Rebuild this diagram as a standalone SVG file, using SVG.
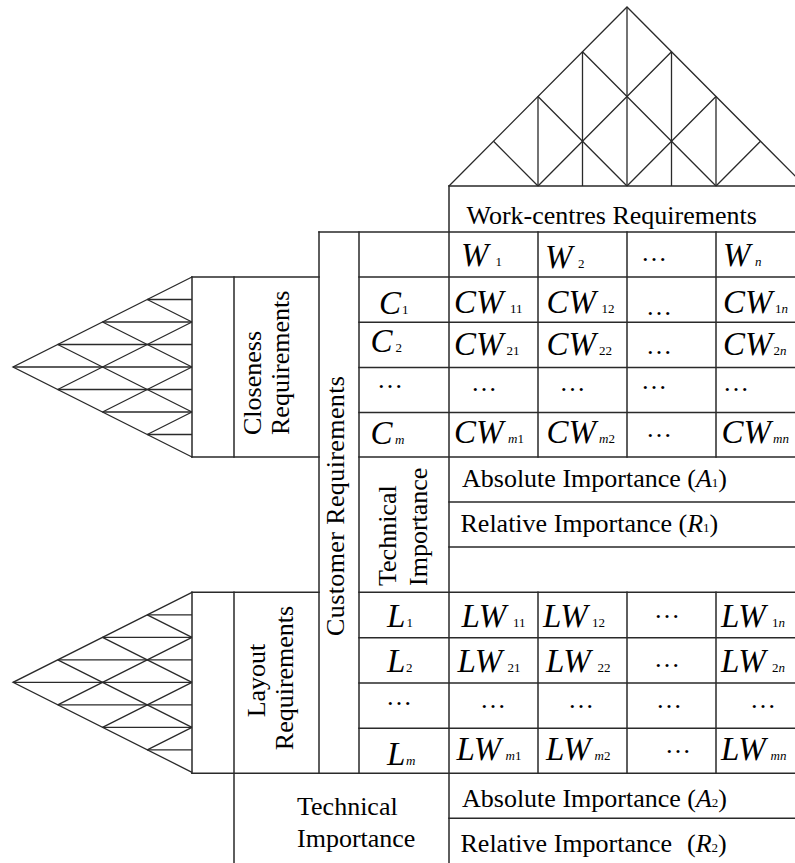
<svg xmlns="http://www.w3.org/2000/svg" width="795" height="863" viewBox="0 0 795 863">
<style>
.ln{stroke:#2a2a2a;stroke-width:1.5;fill:none;stroke-linecap:square}
.tr{stroke:#2a2a2a;stroke-width:1.3;fill:none}
text{font-family:"Liberation Serif","Times New Roman",serif;fill:#000}
.t{font-size:26px}
.m{font-size:33px;font-style:italic}
.d{font-size:26px}
.s{font-size:13px;font-style:normal}
.si{font-size:13px;font-style:italic}
.ai{font-style:italic}
</style>
<rect width="795" height="863" fill="#fff"/>

<g id="roof" class="tr">
<path d="M449,186 L627,7 L805,186"/>
<path d="M538,186V96.5 M582.5,186V51.75 M627,186V7 M671.5,186V51.75 M716,186V96.5"/>
<path d="M493.5,141.25 L538,186 M538,96.5 L627,186 M582.5,51.75 L716,186"/>
<path d="M538,186 L671.5,51.75 M627,186 L716,96.5 M716,186 L760.5,141.25"/>
</g>

<defs>
<g id="tri" class="tr">
<path d="M192,0 L13,90 L192,180"/>
<path d="M147.25,22.5H192 M102.5,45H192 M57.75,67.5H192 M13,90H192 M57.75,112.5H192 M102.5,135H192 M147.25,157.5H192"/>
<path d="M147.25,22.5 L192,45 M102.5,45 L192,90 M57.75,67.5 L192,135"/>
<path d="M57.75,112.5 L192,45 M102.5,135 L192,90 M147.25,157.5 L192,135"/>
</g>
</defs>
<g id="closeness-roof"><use href="#tri" transform="translate(0,277)"/></g>
<g id="layout-roof"><use href="#tri" transform="translate(0,592.3)"/></g>

<g id="grid" class="ln">
<path d="M449,186H795 M319,232H795 M192,277H319 M359,277H795 M359,322.3H795 M359,367.5H795 M359,412.5H795 M192,457H319 M359,457H795 M449,502H795 M449,547H795 M192,592.3H319 M359,592.3H795 M359,637.7H795 M359,683H795 M359,728.3H795 M192,773.3H795 M449,818.3H795"/>
<path d="M192,277V457 M192,592.3V773.3 M234,277V457 M234,592.3V863 M319,232V773.3 M359,232V773.3 M449,186V863 M538,232V457 M627,232V457 M716,232V457 M538,592.3V773.3 M627,592.3V773.3 M716,592.3V773.3"/>
</g>

<g id="work-centres"><text class="t" x="466.5" y="224">Work-centres Requirements</text></g>

<g id="closeness-label">
<text class="t" transform="translate(261,435) rotate(-90)">Closeness</text>
<text class="t" transform="translate(289,435) rotate(-90)">Requirements</text>
</g>

<g id="customer-label">
<text class="t" text-anchor="middle" textLength="260" transform="translate(344,506) rotate(-90)">Customer Requirements</text>
</g>

<g id="tech-importance-1">
<text class="t" transform="translate(396,586) rotate(-90)">Technical</text>
<text class="t" transform="translate(427,586) rotate(-90)">Importance</text>
</g>

<g id="layout-label">
<text class="t" text-anchor="middle" transform="translate(265,680.5) rotate(-90)">Layout</text>
<text class="t" text-anchor="middle" transform="translate(293,678) rotate(-90)">Requirements</text>
</g>

<g id="tech-importance-2">
<text class="t" x="297" y="815">Technical</text>
<text class="t" x="297" y="846.7">Importance</text>
</g>

<g id="abs-1"><text class="t" x="462" y="487">Absolute Importance (<tspan class="ai">A</tspan><tspan class="s">1</tspan>)</text></g>
<g id="rel-1"><text class="t" x="460.5" y="531.7">Relative Importance (<tspan class="ai">R</tspan><tspan class="s">1</tspan>)</text></g>
<g id="abs-2"><text class="t" x="462" y="806.7">Absolute Importance (<tspan class="ai">A</tspan><tspan class="s">2</tspan>)</text></g>
<g id="rel-2"><text class="t" x="460.5" y="851.7">Relative Importance<tspan x="687">(</tspan><tspan class="ai">R</tspan><tspan class="s">2</tspan>)</text></g>

<g id="w-row">
<text class="m" x="461" y="266">W<tspan class="s" x="495.5">1</tspan></text>
<text class="m" x="545" y="268">W<tspan class="s" x="578">2</tspan></text>
<text class="d" x="641" y="261">…</text>
<text class="m" x="723" y="266">W<tspan class="si" x="755">n</tspan></text>
</g>

<g id="c-col">
<text class="m" x="379" y="313.7">C<tspan class="s" x="402">1</tspan></text>
<text class="m" x="370.5" y="352">C<tspan class="s" x="395.5">2</tspan></text>
<text class="d" x="377" y="388">…</text>
<text class="m" x="370.5" y="443.7">C<tspan class="si" x="395">m</tspan></text>
</g>

<g id="cw-matrix">
<text class="m" x="454" y="312.7">CW<tspan class="s" x="510">11</tspan></text>
<text class="m" x="546.5" y="312.7">CW<tspan class="s" x="601.5">12</tspan></text>
<text class="d" x="646" y="315">…</text>
<text class="m" x="723" y="312.7">CW<tspan class="s" x="775">1</tspan><tspan class="si">n</tspan></text>

<text class="m" x="454" y="355">CW<tspan class="s" x="506.5">21</tspan></text>
<text class="m" x="546.5" y="355">CW<tspan class="s" x="599">22</tspan></text>
<text class="d" x="646" y="354">…</text>
<text class="m" x="723" y="355">CW<tspan class="s" x="773.5">2</tspan><tspan class="si">n</tspan></text>

<text class="d" x="471" y="391">…</text>
<text class="d" x="559.5" y="391">…</text>
<text class="d" x="641" y="389">…</text>
<text class="d" x="723" y="391">…</text>

<text class="m" x="454" y="443.3">CW<tspan class="si" x="508">m</tspan><tspan class="s">1</tspan></text>
<text class="m" x="546.5" y="443.3">CW<tspan class="si" x="599">m</tspan><tspan class="s">2</tspan></text>
<text class="d" x="646" y="437">…</text>
<text class="m" x="721.5" y="443.3">CW<tspan class="si" x="773">mn</tspan></text>
</g>

<g id="l-col">
<text class="m" x="387" y="626.7">L<tspan class="s" x="406.5">1</tspan></text>
<text class="m" x="387" y="672.3">L<tspan class="s" x="406">2</tspan></text>
<text class="d" x="386" y="705">…</text>
<text class="m" x="387" y="765">L<tspan class="si" x="406">m</tspan></text>
</g>

<g id="lw-matrix">
<text class="m" x="461.5" y="626.7">LW<tspan class="s" x="513">11</tspan></text>
<text class="m" x="543" y="626.7">LW<tspan class="s" x="592">12</tspan></text>
<text class="d" x="654" y="618">…</text>
<text class="m" x="721" y="626.7">LW<tspan class="s" x="772">1</tspan><tspan class="si">n</tspan></text>

<text class="m" x="457.5" y="672.3">LW<tspan class="s" x="507.5">21</tspan></text>
<text class="m" x="546" y="672.3">LW<tspan class="s" x="597.5">22</tspan></text>
<text class="d" x="654" y="667">…</text>
<text class="m" x="721" y="672.3">LW<tspan class="s" x="772">2</tspan><tspan class="si">n</tspan></text>

<text class="d" x="480" y="708">…</text>
<text class="d" x="568" y="708">…</text>
<text class="d" x="656" y="708">…</text>
<text class="d" x="750" y="708">…</text>

<text class="m" x="456.5" y="760">LW<tspan class="si" x="505.5">m</tspan><tspan class="s">1</tspan></text>
<text class="m" x="546" y="760">LW<tspan class="si" x="594.5">m</tspan><tspan class="s">2</tspan></text>
<text class="d" x="665" y="753">…</text>
<text class="m" x="721" y="760">LW<tspan class="si" x="770.5">mn</tspan></text>
</g>
</svg>
